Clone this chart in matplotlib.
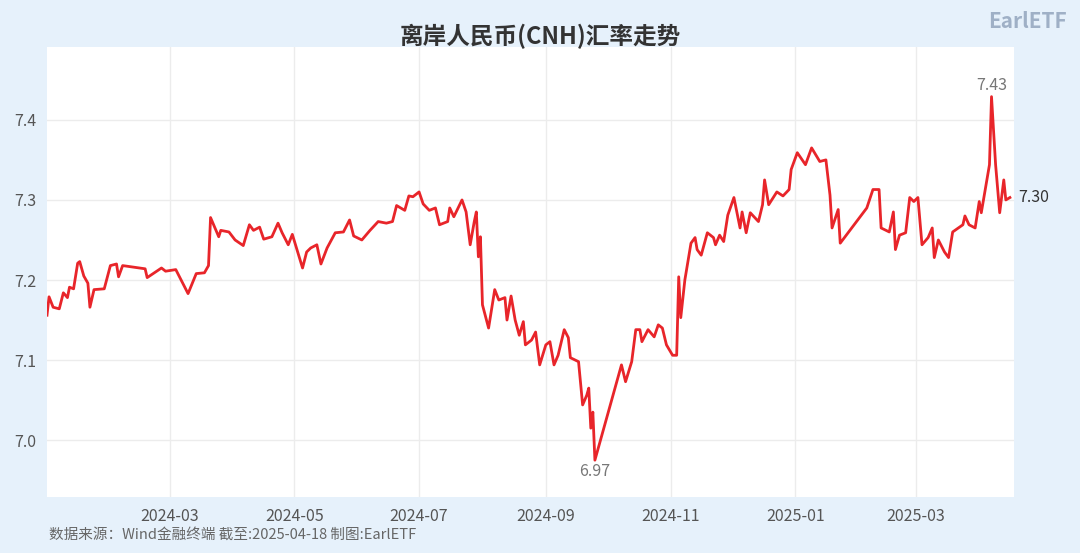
import matplotlib.pyplot as plt
import pandas as pd

plt.rcParams['font.family'] = ['Noto Sans CJK SC', 'DejaVu Sans']

dates = ["2024-01-01", "2024-01-02", "2024-01-04", "2024-01-07", "2024-01-09", "2024-01-11",
         "2024-01-12", "2024-01-14", "2024-01-16", "2024-01-17", "2024-01-19", "2024-01-21",
         "2024-01-22", "2024-01-24", "2024-01-29", "2024-02-01", "2024-02-04", "2024-02-05",
         "2024-02-07", "2024-02-18", "2024-02-19", "2024-02-26", "2024-02-28", "2024-03-04",
         "2024-03-06", "2024-03-10", "2024-03-14", "2024-03-18", "2024-03-20", "2024-03-21",
         "2024-03-25", "2024-03-26", "2024-03-30", "2024-04-02", "2024-04-06", "2024-04-09",
         "2024-04-11", "2024-04-14", "2024-04-16", "2024-04-20", "2024-04-23", "2024-04-25",
         "2024-04-28", "2024-04-30", "2024-05-05", "2024-05-07", "2024-05-09", "2024-05-12",
         "2024-05-14", "2024-05-17", "2024-05-21", "2024-05-25", "2024-05-28", "2024-05-30",
         "2024-06-03", "2024-06-07", "2024-06-11", "2024-06-15", "2024-06-18", "2024-06-20",
         "2024-06-24", "2024-06-26", "2024-06-28", "2024-07-01", "2024-07-03", "2024-07-06",
         "2024-07-09", "2024-07-11", "2024-07-15", "2024-07-16", "2024-07-18", "2024-07-22",
         "2024-07-24", "2024-07-26", "2024-07-28", "2024-07-29", "2024-07-30", "2024-07-31",
         "2024-08-01", "2024-08-04", "2024-08-07", "2024-08-09", "2024-08-12", "2024-08-13",
         "2024-08-15", "2024-08-17", "2024-08-19", "2024-08-21", "2024-08-22", "2024-08-25",
         "2024-08-27", "2024-08-29", "2024-09-01", "2024-09-03", "2024-09-05", "2024-09-07",
         "2024-09-10", "2024-09-12", "2024-09-13", "2024-09-17", "2024-09-19", "2024-09-21",
         "2024-09-22", "2024-09-23", "2024-09-24", "2024-09-25", "2024-10-08", "2024-10-10",
         "2024-10-13", "2024-10-15", "2024-10-17", "2024-10-18", "2024-10-21", "2024-10-24",
         "2024-10-26", "2024-10-28", "2024-10-30", "2024-11-02", "2024-11-04", "2024-11-05",
         "2024-11-06", "2024-11-08", "2024-11-11", "2024-11-13", "2024-11-14", "2024-11-16",
         "2024-11-19", "2024-11-22", "2024-11-23", "2024-11-25", "2024-11-27", "2024-11-29",
         "2024-12-02", "2024-12-05", "2024-12-06", "2024-12-08", "2024-12-10", "2024-12-14",
         "2024-12-16", "2024-12-17", "2024-12-19", "2024-12-23", "2024-12-26", "2024-12-29",
         "2024-12-30", "2025-01-02", "2025-01-06", "2025-01-09", "2025-01-13", "2025-01-16",
         "2025-01-18", "2025-01-19", "2025-01-22", "2025-01-23", "2025-02-05", "2025-02-08",
         "2025-02-11", "2025-02-12", "2025-02-16", "2025-02-18", "2025-02-19", "2025-02-21",
         "2025-02-24", "2025-02-26", "2025-02-28", "2025-03-02", "2025-03-04", "2025-03-07",
         "2025-03-09", "2025-03-10", "2025-03-12", "2025-03-15", "2025-03-17", "2025-03-19",
         "2025-03-24", "2025-03-25", "2025-03-27", "2025-03-30", "2025-04-01", "2025-04-02",
         "2025-04-06", "2025-04-07", "2025-04-09", "2025-04-11", "2025-04-13", "2025-04-14",
         "2025-04-16"]
rates = [7.156, 7.179, 7.166, 7.164, 7.184, 7.178, 7.191, 7.189, 7.221, 7.223, 7.205, 7.196,
         7.166, 7.188, 7.189, 7.218, 7.220, 7.204, 7.218, 7.214, 7.203, 7.215, 7.211, 7.213,
         7.203, 7.183, 7.208, 7.209, 7.218, 7.278, 7.254, 7.262, 7.260, 7.250, 7.243, 7.269,
         7.262, 7.266, 7.251, 7.254, 7.271, 7.259, 7.244, 7.257, 7.215, 7.235, 7.240, 7.244,
         7.220, 7.240, 7.259, 7.260, 7.275, 7.255, 7.250, 7.262, 7.273, 7.271, 7.273, 7.293,
         7.287, 7.305, 7.304, 7.310, 7.295, 7.287, 7.290, 7.269, 7.273, 7.290, 7.279, 7.300,
         7.285, 7.244, 7.273, 7.285, 7.229, 7.254, 7.169, 7.140, 7.188, 7.175, 7.178, 7.150,
         7.180, 7.150, 7.131, 7.148, 7.119, 7.125, 7.135, 7.094, 7.119, 7.123, 7.094, 7.106,
         7.138, 7.128, 7.103, 7.098, 7.044, 7.056, 7.065, 7.015, 7.035, 6.975, 7.094, 7.073,
         7.098, 7.138, 7.138, 7.123, 7.138, 7.129, 7.144, 7.140, 7.119, 7.106, 7.106, 7.204,
         7.153, 7.200, 7.246, 7.253, 7.238, 7.231, 7.259, 7.253, 7.244, 7.256, 7.248, 7.281,
         7.303, 7.265, 7.285, 7.259, 7.284, 7.273, 7.294, 7.325, 7.294, 7.310, 7.305, 7.313,
         7.338, 7.359, 7.344, 7.365, 7.348, 7.350, 7.306, 7.265, 7.288, 7.246, 7.290, 7.313,
         7.313, 7.265, 7.260, 7.285, 7.238, 7.256, 7.259, 7.303, 7.298, 7.303, 7.244, 7.253,
         7.265, 7.228, 7.250, 7.235, 7.228, 7.260, 7.269, 7.280, 7.269, 7.265, 7.298, 7.284,
         7.344, 7.429, 7.344, 7.284, 7.325, 7.300, 7.303]
month_ticks = ["2024-03", "2024-05", "2024-07", "2024-09", "2024-11", "2025-01", "2025-03"]

x = pd.to_datetime(dates)
bg = '#e6f1fb'

fig = plt.figure(figsize=(10.8, 5.53), dpi=100, facecolor=bg)
ax = fig.add_axes([47 / 1080, 56 / 553, 967 / 1080, 450 / 553])
ax.set_facecolor('white')
ax.plot(x, rates, color='#e8252a', lw=2)

ax.set_xlim(pd.Timestamp("2024-01-01"), pd.Timestamp("2025-04-18"))
ax.set_ylim(6.929, 7.491)
ax.set_yticks([7.0, 7.1, 7.2, 7.3, 7.4])
ax.set_yticklabels(['7.0', '7.1', '7.2', '7.3', '7.4'])
ax.set_xticks(pd.to_datetime(month_ticks))
ax.set_xticklabels(month_ticks)
ax.grid(True, color='#ececec', lw=1)
ax.tick_params(length=0, labelsize=11.5, colors='#555555', pad=8)
for s in ax.spines.values():
    s.set_visible(False)

# annotations
imax = rates.index(max(rates))
imin = rates.index(min(rates))
ax.annotate(f"{rates[imax]:.2f}", (x[imax], rates[imax]), xytext=(0, 2),
            textcoords='offset points', ha='center', va='bottom', color='#777777', fontsize=11.5)
ax.annotate(f"{rates[imin]:.2f}", (x[imin], rates[imin]), xytext=(0, -2),
            textcoords='offset points', ha='center', va='top', color='#777777', fontsize=11.5)
ax.annotate(f"{rates[-1]:.2f}", (x[-1], rates[-1]), xytext=(6, 0), annotation_clip=False,
            textcoords='offset points', ha='left', va='center', color='#333333', fontsize=11.5)

fig.text(0.5, 1 - 36 / 553, "离岸人民币(CNH)汇率走势", ha='center', va='center',
         fontsize=17, fontweight='bold', color='#333333')
fig.text(0.915, 1 - 22 / 553, "EarlETF", ha='left', va='center', fontsize=15,
         fontweight='bold', color='#9fb0c6')
fig.text(49 / 1080, 1 - 535 / 553, "数据来源：Wind金融终端 截至:2025-04-18 制图:EarlETF",
         ha='left', va='center', fontsize=10.5, color='#666666')

fig.savefig('out.png', dpi=100, facecolor=bg)
